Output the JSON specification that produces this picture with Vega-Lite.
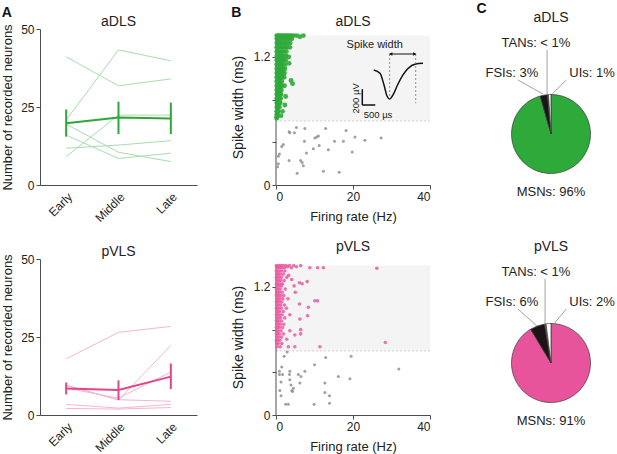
{
  "$schema": "https://vega.github.io/schema/vega-lite/v6.json",
  "padding": {"top": 2, "left": 1, "right": 0, "bottom": 0},
  "background": "white",
  "config": {
    "font": "Liberation Sans",
    "view": {"stroke": null},
    "axis": {"grid": false, "domainColor": "#4d4d4d", "tickColor": "#4d4d4d", "labelColor": "#222", "titleColor": "#222", "labelFontSize": 12, "titleFontSize": 13, "titleFontWeight": "normal", "tickSize": 4, "labelPadding": 2, "titlePadding": 8},
    "title": {"fontSize": 14, "fontWeight": "bold", "anchor": "start", "frame": "bounds", "offset": -5, "color": "#111"}
  },
  "datasets": {
    "adls_animals": [
      {"animal": "a1", "phase": "Early", "n": 41.1}, {"animal": "a1", "phase": "Middle", "n": 31.8}, {"animal": "a1", "phase": "Late", "n": 34.0},
      {"animal": "a2", "phase": "Early", "n": 20.8}, {"animal": "a2", "phase": "Middle", "n": 43.3}, {"animal": "a2", "phase": "Late", "n": 39.8},
      {"animal": "a3", "phase": "Early", "n": 19.5}, {"animal": "a3", "phase": "Middle", "n": 10.5}, {"animal": "a3", "phase": "Late", "n": 7.5},
      {"animal": "a4", "phase": "Early", "n": 16.0}, {"animal": "a4", "phase": "Middle", "n": 8.5}, {"animal": "a4", "phase": "Late", "n": 10.2},
      {"animal": "a5", "phase": "Early", "n": 11.8}, {"animal": "a5", "phase": "Middle", "n": 12.8}, {"animal": "a5", "phase": "Late", "n": 14.2},
      {"animal": "a6", "phase": "Early", "n": 9.1}, {"animal": "a6", "phase": "Middle", "n": 22.4}, {"animal": "a6", "phase": "Late", "n": 22.4}
    ],
    "adls_mean": [
      {"phase": "Early", "mean": 19.8, "lo": 15.5, "hi": 24.2},
      {"phase": "Middle", "mean": 21.6, "lo": 16.3, "hi": 26.7},
      {"phase": "Late", "mean": 21.3, "lo": 16.3, "hi": 26.4}
    ],
    "pvls_animals": [
      {"animal": "p1", "phase": "Early", "n": 18.0}, {"animal": "p1", "phase": "Middle", "n": 26.5}, {"animal": "p1", "phase": "Late", "n": 28.4},
      {"animal": "p2", "phase": "Early", "n": 9.6}, {"animal": "p2", "phase": "Middle", "n": 4.8}, {"animal": "p2", "phase": "Late", "n": 22.3},
      {"animal": "p3", "phase": "Early", "n": 8.6}, {"animal": "p3", "phase": "Middle", "n": 5.4}, {"animal": "p3", "phase": "Late", "n": 13.8},
      {"animal": "p4", "phase": "Early", "n": 9.4}, {"animal": "p4", "phase": "Middle", "n": 4.9}, {"animal": "p4", "phase": "Late", "n": 4.4},
      {"animal": "p5", "phase": "Early", "n": 3.4}, {"animal": "p5", "phase": "Middle", "n": 2.2}, {"animal": "p5", "phase": "Late", "n": 3.4},
      {"animal": "p6", "phase": "Early", "n": 2.1}, {"animal": "p6", "phase": "Middle", "n": 1.9}, {"animal": "p6", "phase": "Late", "n": 2.4}
    ],
    "pvls_mean": [
      {"phase": "Early", "mean": 8.5, "lo": 6.6, "hi": 10.4},
      {"phase": "Middle", "mean": 8.0, "lo": 4.8, "hi": 11.1},
      {"phase": "Late", "mean": 12.3, "lo": 8.3, "hi": 16.5}
    ],
    "adls_other": [
      {"fr": 3.4, "sw": 0.50}, {"fr": 5.3, "sw": 0.54}, {"fr": 3.6, "sw": 0.49}, {"fr": 4.8, "sw": 0.49}, {"fr": 7.5, "sw": 0.53},
      {"fr": 12.9, "sw": 0.53}, {"fr": 18.2, "sw": 0.51}, {"fr": 20.5, "sw": 0.45}, {"fr": 11.0, "sw": 0.46}, {"fr": 10.6, "sw": 0.45},
      {"fr": 10.1, "sw": 0.44}, {"fr": 7.4, "sw": 0.41}, {"fr": 15.2, "sw": 0.41}, {"fr": 17.5, "sw": 0.41}, {"fr": 23.1, "sw": 0.42},
      {"fr": 11.2, "sw": 0.37}, {"fr": 9.7, "sw": 0.34}, {"fr": 13.6, "sw": 0.33}, {"fr": 7.9, "sw": 0.30}, {"fr": 19.8, "sw": 0.31},
      {"fr": 1.9, "sw": 0.38}, {"fr": 1.5, "sw": 0.36}, {"fr": 0.9, "sw": 0.29}, {"fr": 0.6, "sw": 0.27}, {"fr": 3.4, "sw": 0.23},
      {"fr": 6.4, "sw": 0.23}, {"fr": 6.8, "sw": 0.21}, {"fr": 7.1, "sw": 0.18}, {"fr": 0.6, "sw": 0.20}, {"fr": 0.4, "sw": 0.17},
      {"fr": 5.5, "sw": 0.11}, {"fr": 12.3, "sw": 0.13}, {"fr": 16.4, "sw": 0.12}, {"fr": 27.3, "sw": 0.44}
    ],
    "adls_msn": [
      {"fr": 0.2, "sw": 1.40}, {"fr": 0.6, "sw": 1.40}, {"fr": 1.0, "sw": 1.40}, {"fr": 1.5, "sw": 1.40}, {"fr": 2.0, "sw": 1.40}, {"fr": 2.5, "sw": 1.40}, {"fr": 3.0, "sw": 1.40}, {"fr": 3.5, "sw": 1.40}, {"fr": 4.0, "sw": 1.40}, {"fr": 4.6, "sw": 1.40}, {"fr": 5.4, "sw": 1.40}, {"fr": 6.2, "sw": 1.39}, {"fr": 7.1, "sw": 1.40},
      {"fr": 0.2, "sw": 1.37}, {"fr": 0.6, "sw": 1.37}, {"fr": 1.0, "sw": 1.37}, {"fr": 1.5, "sw": 1.37}, {"fr": 2.0, "sw": 1.37}, {"fr": 2.5, "sw": 1.37}, {"fr": 3.0, "sw": 1.37}, {"fr": 3.5, "sw": 1.37}, {"fr": 4.1, "sw": 1.37},
      {"fr": 0.2, "sw": 1.33}, {"fr": 0.6, "sw": 1.33}, {"fr": 1.0, "sw": 1.33}, {"fr": 1.5, "sw": 1.33}, {"fr": 2.0, "sw": 1.33}, {"fr": 2.5, "sw": 1.33}, {"fr": 3.0, "sw": 1.33}, {"fr": 3.7, "sw": 1.33},
      {"fr": 0.2, "sw": 1.29}, {"fr": 0.6, "sw": 1.29}, {"fr": 1.0, "sw": 1.29}, {"fr": 1.5, "sw": 1.29}, {"fr": 2.0, "sw": 1.29}, {"fr": 2.5, "sw": 1.29}, {"fr": 2.9, "sw": 1.29}, {"fr": 3.6, "sw": 1.29},
      {"fr": 0.2, "sw": 1.25}, {"fr": 0.6, "sw": 1.25}, {"fr": 1.0, "sw": 1.25}, {"fr": 1.5, "sw": 1.25}, {"fr": 2.0, "sw": 1.25}, {"fr": 2.7, "sw": 1.25},
      {"fr": 0.2, "sw": 1.21}, {"fr": 0.6, "sw": 1.21}, {"fr": 1.0, "sw": 1.21}, {"fr": 1.5, "sw": 1.21}, {"fr": 1.9, "sw": 1.21}, {"fr": 2.6, "sw": 1.21}, {"fr": 3.3, "sw": 1.20},
      {"fr": 0.2, "sw": 1.17}, {"fr": 0.6, "sw": 1.17}, {"fr": 1.0, "sw": 1.17}, {"fr": 1.5, "sw": 1.17}, {"fr": 1.9, "sw": 1.17}, {"fr": 2.5, "sw": 1.17},
      {"fr": 0.2, "sw": 1.13}, {"fr": 0.6, "sw": 1.13}, {"fr": 1.0, "sw": 1.13}, {"fr": 1.4, "sw": 1.13}, {"fr": 1.8, "sw": 1.13}, {"fr": 2.4, "sw": 1.13}, {"fr": 3.4, "sw": 1.14},
      {"fr": 0.2, "sw": 1.09}, {"fr": 0.6, "sw": 1.09}, {"fr": 1.0, "sw": 1.09}, {"fr": 1.4, "sw": 1.09}, {"fr": 1.8, "sw": 1.09}, {"fr": 2.3, "sw": 1.09},
      {"fr": 0.2, "sw": 1.05}, {"fr": 0.6, "sw": 1.05}, {"fr": 0.9, "sw": 1.05}, {"fr": 1.3, "sw": 1.05}, {"fr": 1.7, "sw": 1.05}, {"fr": 2.2, "sw": 1.05},
      {"fr": 0.2, "sw": 1.01}, {"fr": 0.6, "sw": 1.01}, {"fr": 0.9, "sw": 1.01}, {"fr": 1.3, "sw": 1.01}, {"fr": 1.6, "sw": 1.01}, {"fr": 2.1, "sw": 1.01}, {"fr": 3.9, "sw": 0.98},
      {"fr": 0.2, "sw": 0.97}, {"fr": 0.6, "sw": 0.97}, {"fr": 0.9, "sw": 0.97}, {"fr": 1.2, "sw": 0.97}, {"fr": 1.5, "sw": 0.97}, {"fr": 4.3, "sw": 0.95},
      {"fr": 0.2, "sw": 0.93}, {"fr": 0.5, "sw": 0.93}, {"fr": 0.8, "sw": 0.93}, {"fr": 1.2, "sw": 0.93}, {"fr": 1.5, "sw": 0.93}, {"fr": 2.2, "sw": 0.93},
      {"fr": 0.2, "sw": 0.89}, {"fr": 0.5, "sw": 0.89}, {"fr": 0.8, "sw": 0.89}, {"fr": 1.1, "sw": 0.89}, {"fr": 1.4, "sw": 0.89},
      {"fr": 0.2, "sw": 0.85}, {"fr": 0.5, "sw": 0.85}, {"fr": 0.7, "sw": 0.85}, {"fr": 1.0, "sw": 0.85}, {"fr": 1.3, "sw": 0.85}, {"fr": 2.5, "sw": 0.83},
      {"fr": 0.2, "sw": 0.81}, {"fr": 0.5, "sw": 0.81}, {"fr": 0.7, "sw": 0.81}, {"fr": 1.0, "sw": 0.81}, {"fr": 1.2, "sw": 0.81},
      {"fr": 0.2, "sw": 0.77}, {"fr": 0.4, "sw": 0.77}, {"fr": 0.6, "sw": 0.77}, {"fr": 0.9, "sw": 0.77}, {"fr": 1.1, "sw": 0.77}, {"fr": 2.3, "sw": 0.75},
      {"fr": 0.2, "sw": 0.73}, {"fr": 0.4, "sw": 0.73}, {"fr": 0.6, "sw": 0.73}, {"fr": 0.9, "sw": 0.73},
      {"fr": 0.2, "sw": 0.69}, {"fr": 0.4, "sw": 0.69}, {"fr": 0.6, "sw": 0.69}, {"fr": 1.7, "sw": 0.69},
      {"fr": 0.2, "sw": 0.66}, {"fr": 0.4, "sw": 0.66}, {"fr": 1.3, "sw": 0.65},
      {"fr": 0.1, "sw": 0.63}, {"fr": 0.3, "sw": 0.63}
    ],
    "pvls_other": [
      {"fr": 2.1, "sw": 0.55}, {"fr": 2.9, "sw": 0.59}, {"fr": 12.9, "sw": 0.54}, {"fr": 19.5, "sw": 0.55}, {"fr": 10.0, "sw": 0.47},
      {"fr": 1.5, "sw": 0.45}, {"fr": 0.9, "sw": 0.41}, {"fr": 1.7, "sw": 0.38}, {"fr": 0.9, "sw": 0.38}, {"fr": 3.6, "sw": 0.41},
      {"fr": 3.5, "sw": 0.38}, {"fr": 5.8, "sw": 0.38}, {"fr": 6.5, "sw": 0.36}, {"fr": 7.5, "sw": 0.41}, {"fr": 16.2, "sw": 0.36},
      {"fr": 19.2, "sw": 0.34}, {"fr": 1.3, "sw": 0.31}, {"fr": 3.6, "sw": 0.33}, {"fr": 6.2, "sw": 0.30}, {"fr": 3.9, "sw": 0.28},
      {"fr": 4.5, "sw": 0.25}, {"fr": 4.1, "sw": 0.23}, {"fr": 4.3, "sw": 0.22}, {"fr": 1.0, "sw": 0.23}, {"fr": 1.3, "sw": 0.18},
      {"fr": 12.7, "sw": 0.30}, {"fr": 12.7, "sw": 0.21}, {"fr": 13.9, "sw": 0.18}, {"fr": 13.9, "sw": 0.11}, {"fr": 2.5, "sw": 0.10},
      {"fr": 3.2, "sw": 0.10}, {"fr": 9.9, "sw": 0.10}, {"fr": 31.9, "sw": 0.43}
    ],
    "pvls_msn": [
      {"fr": 0.1, "sw": 1.40}, {"fr": 0.4, "sw": 1.38}, {"fr": 0.7, "sw": 1.40}, {"fr": 1.0, "sw": 1.38}, {"fr": 1.3, "sw": 1.40}, {"fr": 1.6, "sw": 1.38}, {"fr": 1.9, "sw": 1.40}, {"fr": 2.2, "sw": 1.38},
      {"fr": 2.6, "sw": 1.40}, {"fr": 3.0, "sw": 1.39}, {"fr": 3.5, "sw": 1.40}, {"fr": 4.0, "sw": 1.38}, {"fr": 4.6, "sw": 1.40}, {"fr": 5.3, "sw": 1.39}, {"fr": 6.4, "sw": 1.40},
      {"fr": 8.8, "sw": 1.38}, {"fr": 10.8, "sw": 1.38}, {"fr": 12.3, "sw": 1.38}, {"fr": 26.2, "sw": 1.375}, {"fr": 0.25, "sw": 1.39}, {"fr": 0.55, "sw": 1.39}, {"fr": 0.85, "sw": 1.39}, {"fr": 1.15, "sw": 1.39},
      {"fr": 0.1, "sw": 1.35}, {"fr": 0.5, "sw": 1.35}, {"fr": 0.9, "sw": 1.35}, {"fr": 1.5, "sw": 1.35}, {"fr": 2.3, "sw": 1.35},
      {"fr": 0.2, "sw": 1.32}, {"fr": 0.6, "sw": 1.32}, {"fr": 1.1, "sw": 1.32}, {"fr": 1.9, "sw": 1.32}, {"fr": 3.3, "sw": 1.31},
      {"fr": 0.1, "sw": 1.29}, {"fr": 0.4, "sw": 1.29}, {"fr": 0.8, "sw": 1.29}, {"fr": 1.4, "sw": 1.29}, {"fr": 2.8, "sw": 1.29},
      {"fr": 0.2, "sw": 1.26}, {"fr": 0.7, "sw": 1.26}, {"fr": 1.2, "sw": 1.26}, {"fr": 2.1, "sw": 1.26}, {"fr": 4.1, "sw": 1.27}, {"fr": 8.1, "sw": 1.25},
      {"fr": 0.1, "sw": 1.23}, {"fr": 0.5, "sw": 1.23}, {"fr": 1.0, "sw": 1.23}, {"fr": 1.7, "sw": 1.23}, {"fr": 6.1, "sw": 1.24}, {"fr": 6.8, "sw": 1.23},
      {"fr": 0.3, "sw": 1.21}, {"fr": 0.8, "sw": 1.21}, {"fr": 1.4, "sw": 1.21}, {"fr": 4.7, "sw": 1.21},
      {"fr": 0.1, "sw": 1.18}, {"fr": 0.6, "sw": 1.18}, {"fr": 1.1, "sw": 1.18}, {"fr": 2.4, "sw": 1.18},
      {"fr": 0.2, "sw": 1.15}, {"fr": 0.5, "sw": 1.15}, {"fr": 0.9, "sw": 1.15}, {"fr": 1.6, "sw": 1.15}, {"fr": 5.0, "sw": 1.15},
      {"fr": 0.1, "sw": 1.12}, {"fr": 0.4, "sw": 1.12}, {"fr": 0.8, "sw": 1.12}, {"fr": 1.3, "sw": 1.12}, {"fr": 2.0, "sw": 1.12},
      {"fr": 0.2, "sw": 1.09}, {"fr": 0.6, "sw": 1.09}, {"fr": 1.1, "sw": 1.09}, {"fr": 1.8, "sw": 1.09}, {"fr": 3.1, "sw": 1.09},
      {"fr": 0.1, "sw": 1.06}, {"fr": 0.5, "sw": 1.06}, {"fr": 0.9, "sw": 1.06}, {"fr": 1.5, "sw": 1.06}, {"fr": 10.1, "sw": 1.07}, {"fr": 10.8, "sw": 1.07},
      {"fr": 0.2, "sw": 1.03}, {"fr": 0.7, "sw": 1.03}, {"fr": 1.2, "sw": 1.03}, {"fr": 2.2, "sw": 1.03}, {"fr": 6.1, "sw": 1.04},
      {"fr": 0.1, "sw": 1.00}, {"fr": 0.4, "sw": 1.00}, {"fr": 0.8, "sw": 1.00}, {"fr": 1.4, "sw": 1.00}, {"fr": 2.7, "sw": 1.00}, {"fr": 8.4, "sw": 1.01},
      {"fr": 0.2, "sw": 0.97}, {"fr": 0.6, "sw": 0.97}, {"fr": 1.0, "sw": 0.97}, {"fr": 1.9, "sw": 0.97},
      {"fr": 0.1, "sw": 0.94}, {"fr": 0.5, "sw": 0.94}, {"fr": 0.9, "sw": 0.94}, {"fr": 1.6, "sw": 0.94}, {"fr": 3.6, "sw": 0.94}, {"fr": 8.2, "sw": 0.93},
      {"fr": 0.2, "sw": 0.91}, {"fr": 0.7, "sw": 0.91}, {"fr": 1.2, "sw": 0.91}, {"fr": 2.3, "sw": 0.91}, {"fr": 6.2, "sw": 0.90},
      {"fr": 0.1, "sw": 0.88}, {"fr": 0.4, "sw": 0.88}, {"fr": 0.8, "sw": 0.88}, {"fr": 1.4, "sw": 0.88},
      {"fr": 0.2, "sw": 0.85}, {"fr": 0.6, "sw": 0.85}, {"fr": 1.1, "sw": 0.85}, {"fr": 2.0, "sw": 0.85},
      {"fr": 0.1, "sw": 0.82}, {"fr": 0.5, "sw": 0.82}, {"fr": 0.9, "sw": 0.82}, {"fr": 1.7, "sw": 0.82},
      {"fr": 0.2, "sw": 0.79}, {"fr": 0.6, "sw": 0.79}, {"fr": 1.3, "sw": 0.79}, {"fr": 3.6, "sw": 0.79}, {"fr": 6.4, "sw": 0.80},
      {"fr": 0.1, "sw": 0.76}, {"fr": 0.4, "sw": 0.76}, {"fr": 0.9, "sw": 0.76}, {"fr": 1.9, "sw": 0.76}, {"fr": 4.9, "sw": 0.75}, {"fr": 6.4, "sw": 0.76},
      {"fr": 0.2, "sw": 0.73}, {"fr": 0.7, "sw": 0.73}, {"fr": 1.4, "sw": 0.73},
      {"fr": 0.1, "sw": 0.70}, {"fr": 0.5, "sw": 0.70}, {"fr": 1.0, "sw": 0.70}, {"fr": 2.8, "sw": 0.71},
      {"fr": 0.2, "sw": 0.67}, {"fr": 0.6, "sw": 0.67}, {"fr": 1.5, "sw": 0.67}, {"fr": 28.4, "sw": 0.68},
      {"fr": 0.3, "sw": 0.64}, {"fr": 1.1, "sw": 0.64}, {"fr": 3.2, "sw": 0.64}, {"fr": 4.9, "sw": 0.64}, {"fr": 11.4, "sw": 0.64}
    ],
    "waveform": [
      {"t": -615, "v": 0}, {"t": -373, "v": -41}, {"t": -219, "v": -188}, {"t": -104, "v": -325}, {"t": 0, "v": -362},
      {"t": 127, "v": -312}, {"t": 319, "v": -175}, {"t": 511, "v": -62}, {"t": 704, "v": 19}, {"t": 1000, "v": 75}, {"t": 1281, "v": 84}
    ],
    "adls_pie": [
      {"cell": "MSNs", "pct": 95.6, "k": 1}, {"cell": "FSIs", "pct": 3.0, "k": 2}, {"cell": "TANs", "pct": 0.4, "k": 3}, {"cell": "UIs", "pct": 1.0, "k": 4}
    ],
    "pvls_pie": [
      {"cell": "MSNs", "pct": 91.4, "k": 1}, {"cell": "FSIs", "pct": 6.0, "k": 2}, {"cell": "TANs", "pct": 0.6, "k": 3}, {"cell": "UIs", "pct": 2.0, "k": 4}
    ],
    "one": [{}]
  },
  "columns": 3,
  "bounds": "flush",
  "align": "each",
  "spacing": {"row": 74, "column": 79},
  "resolve": {"scale": {"color": "independent"}},
  "concat": [
    {
      "title": {"text": "A"},
      "width": 157, "height": 156,
      "layer": [
        {"data": {"name": "adls_animals"}, "mark": {"type": "line", "color": "#a9dcae", "strokeWidth": 1},
         "encoding": {
           "x": {"field": "phase", "type": "ordinal", "title": null, "scale": {"type": "point", "domain": ["Early", "Middle", "Late"], "padding": 0.5}, "axis": {"labelAngle": -45, "labelAlign": "right", "labelBaseline": "top", "ticks": false, "labelPadding": 6}},
           "y": {"field": "n", "type": "quantitative", "title": "Number of recorded neurons", "scale": {"domain": [0, 50], "nice": false}, "axis": {"values": [0, 25, 50], "titlePadding": 6}},
           "detail": {"field": "animal"}}},
        {"data": {"name": "adls_mean"}, "mark": {"type": "rule", "color": "#2ea836", "strokeWidth": 2},
         "encoding": {"x": {"field": "phase", "type": "ordinal", "title": null}, "y": {"field": "lo", "type": "quantitative", "title": "Number of recorded neurons"}, "y2": {"field": "hi"}}},
        {"data": {"name": "adls_mean"}, "mark": {"type": "line", "color": "#2ea836", "strokeWidth": 2},
         "encoding": {"x": {"field": "phase", "type": "ordinal", "title": null}, "y": {"field": "mean", "type": "quantitative", "title": "Number of recorded neurons"}}},
        {"data": {"name": "one"}, "mark": {"type": "text", "fontSize": 14, "color": "#222"},
         "encoding": {"x": {"datum": "Middle", "type": "ordinal"}, "y": {"datum": 52.3, "type": "quantitative"}, "text": {"value": "aDLS"}}}
      ]
    },
    {
      "title": {"text": "B"},
      "width": 154, "height": 156,
      "resolve": {"scale": {"x": "independent", "y": "independent"}},
      "layer": [
        {
          "layer": [
            {"data": {"name": "one"}, "mark": {"type": "rect", "color": "#f4f4f4"},
             "encoding": {"x": {"datum": 0}, "x2": {"datum": 40}, "y": {"datum": 0.6}, "y2": {"datum": 1.4}}},
            {"data": {"name": "one"}, "mark": {"type": "rule", "color": "#c8c8c8", "strokeDash": [2, 2], "strokeWidth": 0.8},
             "encoding": {"x": {"datum": 0}, "x2": {"datum": 40}, "y": {"datum": 0.6}}},
            {"data": {"name": "one"}, "mark": {"type": "rule", "color": "#4d4d4d"},
             "encoding": {"x": {"datum": 0}, "y": {"datum": 0}, "y2": {"datum": 1.4}}},
            {"data": {"name": "adls_other"}, "mark": {"type": "circle", "size": 9, "color": "#8f8f8f", "opacity": 0.85},
             "encoding": {
               "x": {"field": "fr", "type": "quantitative", "title": "Firing rate (Hz)", "scale": {"domain": [0, 40], "nice": false}, "axis": {"values": [0, 10, 20, 30, 40], "labelExpr": "datum.value % 20 == 0 ? datum.label : ''"}},
               "y": {"field": "sw", "type": "quantitative", "title": "Spike width (ms)", "scale": {"domain": [0, 1.462], "nice": false}, "axis": {"values": [0, 0.2, 0.4, 0.6, 0.8, 1, 1.2, 1.4], "domain": false, "labelOverlap": false, "titleFontSize": 14, "labelExpr": "datum.value == 0 ? '0' : (datum.value == 0.6 ? '0.6' : (datum.value == 1.2 ? '1.2' : ''))"}}}},
            {"data": {"name": "adls_msn"}, "mark": {"type": "circle", "size": 24, "color": "#2eaa3a", "opacity": 0.9},
             "encoding": {"x": {"field": "fr", "type": "quantitative", "title": "Firing rate (Hz)"}, "y": {"field": "sw", "type": "quantitative", "title": "Spike width (ms)"}}},
            {"data": {"name": "one"}, "mark": {"type": "text", "fontSize": 14, "color": "#222"},
             "encoding": {"x": {"datum": 20}, "y": {"datum": 1.532}, "text": {"value": "aDLS"}}}
          ]
        },
        {
          "layer": [
            {"data": {"name": "waveform"}, "mark": {"type": "line", "color": "#111", "strokeWidth": 1.5, "interpolate": "monotone"},
             "encoding": {
               "x": {"field": "t", "type": "quantitative", "scale": {"domain": [-4373, 1550], "nice": false, "zero": false}, "axis": null},
               "y": {"field": "v", "type": "quantitative", "scale": {"domain": [-1437.5, 512.5], "nice": false, "zero": false}, "axis": null}}},
            {"data": {"name": "one"}, "mark": {"type": "rule", "color": "#777", "strokeDash": [2, 2], "strokeWidth": 0.8},
             "encoding": {"x": {"datum": 0, "axis": null}, "y": {"datum": 200, "axis": null}, "y2": {"datum": -362}}},
            {"data": {"name": "one"}, "mark": {"type": "rule", "color": "#777", "strokeDash": [2, 2], "strokeWidth": 0.8},
             "encoding": {"x": {"datum": 1000, "axis": null}, "y": {"datum": 200, "axis": null}, "y2": {"datum": -416}}},
            {"data": {"name": "one"}, "mark": {"type": "rule", "color": "#111", "strokeWidth": 1},
             "encoding": {"x": {"datum": 0, "axis": null}, "x2": {"datum": 1000}, "y": {"datum": 200, "axis": null}}},
            {"data": {"name": "one"}, "mark": {"type": "point", "shape": "triangle-left", "filled": true, "size": 14, "color": "#111", "opacity": 1},
             "encoding": {"x": {"datum": 40, "axis": null}, "y": {"datum": 200, "axis": null}}},
            {"data": {"name": "one"}, "mark": {"type": "point", "shape": "triangle-right", "filled": true, "size": 14, "color": "#111", "opacity": 1},
             "encoding": {"x": {"datum": 960, "axis": null}, "y": {"datum": 200, "axis": null}}},
            {"data": {"name": "one"}, "mark": {"type": "rule", "color": "#111", "strokeWidth": 1.5},
             "encoding": {"x": {"datum": -1054, "axis": null}, "y": {"datum": -241, "axis": null}, "y2": {"datum": -437.5}}},
            {"data": {"name": "one"}, "mark": {"type": "rule", "color": "#111", "strokeWidth": 1.5},
             "encoding": {"x": {"datum": -1054, "axis": null}, "x2": {"datum": -554}, "y": {"datum": -437.5, "axis": null}}},
            {"data": {"name": "one"}, "mark": {"type": "text", "fontSize": 11, "color": "#222"},
             "encoding": {"x": {"datum": -577, "axis": null}, "y": {"datum": 312.5, "axis": null}, "text": {"value": "Spike width"}}},
            {"data": {"name": "one"}, "mark": {"type": "text", "fontSize": 9.5, "color": "#222", "angle": 270},
             "encoding": {"x": {"datum": -1308, "axis": null}, "y": {"datum": -354, "axis": null}, "text": {"value": "200 µV"}}},
            {"data": {"name": "one"}, "mark": {"type": "text", "fontSize": 9.5, "color": "#222"},
             "encoding": {"x": {"datum": -450, "axis": null}, "y": {"datum": -562, "axis": null}, "text": {"value": "500 µs"}}}
          ]
        }
      ]
    },
    {
      "title": {"text": "C", "dx": -9},
      "width": 84, "height": 156,
      "layer": [
        {"data": {"name": "adls_pie"}, "mark": {"type": "arc", "outerRadius": 39.5, "stroke": "#3a3a3a", "strokeWidth": 0.7},
         "encoding": {
           "theta": {"field": "pct", "type": "quantitative", "stack": true},
           "order": {"field": "k", "type": "quantitative"},
           "color": {"field": "cell", "type": "nominal", "legend": null, "scale": {"domain": ["MSNs", "FSIs", "TANs", "UIs"], "range": ["#2eaa3a", "#1c1414", "#6e6e6e", "#ffffff"]}},
           "x": {"datum": 0, "type": "quantitative", "scale": {"domain": [-1.063, 1.063], "nice": false, "zero": false}, "axis": null},
           "y": {"datum": 0, "type": "quantitative", "scale": {"domain": [-1.291, 2.658], "nice": false, "zero": false}, "axis": null}}},
        {"data": {"name": "one"}, "mark": {"type": "rule", "color": "#8a8a8a", "strokeWidth": 0.8},
         "encoding": {"x": {"datum": -0.1, "axis": null}, "y": {"datum": 2.13, "axis": null}, "y2": {"datum": 0.99}}},
        {"data": {"name": "one"}, "mark": {"type": "rule", "color": "#8a8a8a", "strokeWidth": 0.8},
         "encoding": {"x": {"datum": -0.84, "axis": null}, "x2": {"datum": -0.2}, "y": {"datum": 1.37, "axis": null}, "y2": {"datum": 1.01}}},
        {"data": {"name": "one"}, "mark": {"type": "rule", "color": "#8a8a8a", "strokeWidth": 0.8},
         "encoding": {"x": {"datum": 0.39, "axis": null}, "x2": {"datum": 0.03}, "y": {"datum": 1.37, "axis": null}, "y2": {"datum": 1.01}}},
        {"data": {"name": "one"}, "mark": {"type": "text", "fontSize": 14, "color": "#222"},
         "encoding": {"x": {"datum": 0, "axis": null}, "y": {"datum": 2.93, "axis": null}, "text": {"value": "aDLS"}}},
        {"data": {"name": "one"}, "mark": {"type": "text", "fontSize": 13, "color": "#222"},
         "encoding": {"x": {"datum": -0.38, "axis": null}, "y": {"datum": 2.3, "axis": null}, "text": {"value": "TANs: < 1%"}}},
        {"data": {"name": "one"}, "mark": {"type": "text", "fontSize": 13, "color": "#222"},
         "encoding": {"x": {"datum": -0.99, "axis": null}, "y": {"datum": 1.54, "axis": null}, "text": {"value": "FSIs: 3%"}}},
        {"data": {"name": "one"}, "mark": {"type": "text", "fontSize": 13, "color": "#222"},
         "encoding": {"x": {"datum": 1.04, "axis": null}, "y": {"datum": 1.54, "axis": null}, "text": {"value": "UIs: 1%"}}},
        {"data": {"name": "one"}, "mark": {"type": "text", "fontSize": 13, "color": "#222"},
         "encoding": {"x": {"datum": 0, "axis": null}, "y": {"datum": -1.47, "axis": null}, "text": {"value": "MSNs: 96%"}}}
      ]
    },
    {
      "width": 157, "height": 156,
      "layer": [
        {"data": {"name": "pvls_animals"}, "mark": {"type": "line", "color": "#f4b6d1", "strokeWidth": 1},
         "encoding": {
           "x": {"field": "phase", "type": "ordinal", "title": null, "scale": {"type": "point", "domain": ["Early", "Middle", "Late"], "padding": 0.5}, "axis": {"labelAngle": -45, "labelAlign": "right", "labelBaseline": "top", "ticks": false, "labelPadding": 6}},
           "y": {"field": "n", "type": "quantitative", "title": "Number of recorded neurons", "scale": {"domain": [0, 50], "nice": false}, "axis": {"values": [0, 25, 50], "titlePadding": 6}},
           "detail": {"field": "animal"}}},
        {"data": {"name": "pvls_mean"}, "mark": {"type": "rule", "color": "#e0458f", "strokeWidth": 2},
         "encoding": {"x": {"field": "phase", "type": "ordinal", "title": null}, "y": {"field": "lo", "type": "quantitative", "title": "Number of recorded neurons"}, "y2": {"field": "hi"}}},
        {"data": {"name": "pvls_mean"}, "mark": {"type": "line", "color": "#e0458f", "strokeWidth": 2},
         "encoding": {"x": {"field": "phase", "type": "ordinal", "title": null}, "y": {"field": "mean", "type": "quantitative", "title": "Number of recorded neurons"}}},
        {"data": {"name": "one"}, "mark": {"type": "text", "fontSize": 14, "color": "#222"},
         "encoding": {"x": {"datum": "Middle", "type": "ordinal"}, "y": {"datum": 52.3, "type": "quantitative"}, "text": {"value": "pVLS"}}}
      ]
    },
    {
      "width": 154, "height": 156,
      "layer": [
        {"data": {"name": "one"}, "mark": {"type": "rect", "color": "#f4f4f4"},
         "encoding": {"x": {"datum": 0}, "x2": {"datum": 40}, "y": {"datum": 0.6}, "y2": {"datum": 1.4}}},
        {"data": {"name": "one"}, "mark": {"type": "rule", "color": "#c8c8c8", "strokeDash": [2, 2], "strokeWidth": 0.8},
         "encoding": {"x": {"datum": 0}, "x2": {"datum": 40}, "y": {"datum": 0.6}}},
        {"data": {"name": "one"}, "mark": {"type": "rule", "color": "#4d4d4d"},
         "encoding": {"x": {"datum": 0}, "y": {"datum": 0}, "y2": {"datum": 1.4}}},
        {"data": {"name": "pvls_other"}, "mark": {"type": "circle", "size": 9, "color": "#8f8f8f", "opacity": 0.85},
         "encoding": {
           "x": {"field": "fr", "type": "quantitative", "title": "Firing rate (Hz)", "scale": {"domain": [0, 40], "nice": false}, "axis": {"values": [0, 10, 20, 30, 40], "labelExpr": "datum.value % 20 == 0 ? datum.label : ''"}},
           "y": {"field": "sw", "type": "quantitative", "title": "Spike width (ms)", "scale": {"domain": [0, 1.462], "nice": false}, "axis": {"values": [0, 0.2, 0.4, 0.6, 0.8, 1, 1.2, 1.4], "domain": false, "labelOverlap": false, "titleFontSize": 14, "labelExpr": "datum.value == 0 ? '0' : (datum.value == 0.6 ? '0.6' : (datum.value == 1.2 ? '1.2' : ''))"}}}},
        {"data": {"name": "pvls_msn"}, "mark": {"type": "circle", "size": 13, "color": "#ec5aa0", "opacity": 0.85},
         "encoding": {"x": {"field": "fr", "type": "quantitative", "title": "Firing rate (Hz)"}, "y": {"field": "sw", "type": "quantitative", "title": "Spike width (ms)"}}},
        {"data": {"name": "one"}, "mark": {"type": "text", "fontSize": 14, "color": "#222"},
         "encoding": {"x": {"datum": 20}, "y": {"datum": 1.573}, "text": {"value": "pVLS"}}}
      ]
    },
    {
      "width": 84, "height": 156,
      "layer": [
        {"data": {"name": "pvls_pie"}, "mark": {"type": "arc", "outerRadius": 39.5, "stroke": "#3a3a3a", "strokeWidth": 0.7},
         "encoding": {
           "theta": {"field": "pct", "type": "quantitative", "stack": true},
           "order": {"field": "k", "type": "quantitative"},
           "color": {"field": "cell", "type": "nominal", "legend": null, "scale": {"domain": ["MSNs", "FSIs", "TANs", "UIs"], "range": ["#e8549c", "#1c1414", "#6e6e6e", "#ffffff"]}},
           "x": {"datum": 0, "type": "quantitative", "scale": {"domain": [-1.063, 1.063], "nice": false, "zero": false}, "axis": null},
           "y": {"datum": 0, "type": "quantitative", "scale": {"domain": [-1.316, 2.633], "nice": false, "zero": false}, "axis": null}}},
        {"data": {"name": "one"}, "mark": {"type": "rule", "color": "#8a8a8a", "strokeWidth": 0.8},
         "encoding": {"x": {"datum": -0.15, "axis": null}, "y": {"datum": 2.13, "axis": null}, "y2": {"datum": 0.97}}},
        {"data": {"name": "one"}, "mark": {"type": "rule", "color": "#8a8a8a", "strokeWidth": 0.8},
         "encoding": {"x": {"datum": -0.84, "axis": null}, "x2": {"datum": -0.35}, "y": {"datum": 1.37, "axis": null}, "y2": {"datum": 0.93}}},
        {"data": {"name": "one"}, "mark": {"type": "rule", "color": "#8a8a8a", "strokeWidth": 0.8},
         "encoding": {"x": {"datum": 0.39, "axis": null}, "x2": {"datum": 0.04}, "y": {"datum": 1.37, "axis": null}, "y2": {"datum": 0.95}}},
        {"data": {"name": "one"}, "mark": {"type": "text", "fontSize": 14, "color": "#222"},
         "encoding": {"x": {"datum": 0, "axis": null}, "y": {"datum": 2.93, "axis": null}, "text": {"value": "pVLS"}}},
        {"data": {"name": "one"}, "mark": {"type": "text", "fontSize": 13, "color": "#222"},
         "encoding": {"x": {"datum": -0.38, "axis": null}, "y": {"datum": 2.3, "axis": null}, "text": {"value": "TANs: < 1%"}}},
        {"data": {"name": "one"}, "mark": {"type": "text", "fontSize": 13, "color": "#222"},
         "encoding": {"x": {"datum": -0.99, "axis": null}, "y": {"datum": 1.55, "axis": null}, "text": {"value": "FSIs: 6%"}}},
        {"data": {"name": "one"}, "mark": {"type": "text", "fontSize": 13, "color": "#222"},
         "encoding": {"x": {"datum": 1.04, "axis": null}, "y": {"datum": 1.55, "axis": null}, "text": {"value": "UIs: 2%"}}},
        {"data": {"name": "one"}, "mark": {"type": "text", "fontSize": 13, "color": "#222"},
         "encoding": {"x": {"datum": 0, "axis": null}, "y": {"datum": -1.48, "axis": null}, "text": {"value": "MSNs: 91%"}}}
      ]
    }
  ]
}
